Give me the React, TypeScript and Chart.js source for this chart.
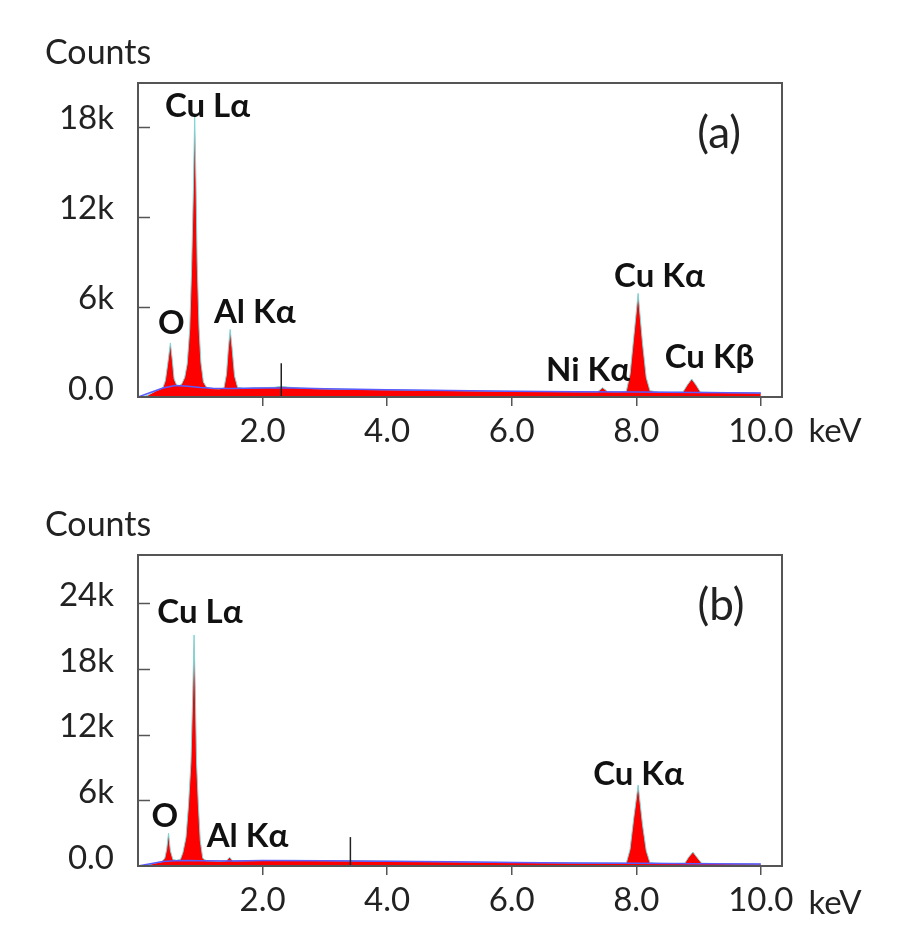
import React, { useEffect, useRef } from 'react';
import { Chart, registerables } from 'chart.js';

Chart.register(...registerables);

// ---------- Panel (a) data ----------
const energyA = [0, 0.08, 0.16, 0.24, 0.3, 0.36, 0.4, 0.44, 0.48, 0.52, 0.55, 0.58, 0.62, 0.66, 0.7, 0.75, 0.79, 0.83, 0.86, 0.89, 0.91, 0.93, 0.95, 0.98, 1.01, 1.05, 1.1, 1.18, 1.3, 1.38, 1.42, 1.45, 1.48, 1.51, 1.55, 1.6, 1.7, 1.85, 2.0, 2.2, 2.3, 2.4, 2.6, 2.8, 3.0, 3.3, 3.6, 4.0, 4.4, 4.8, 5.2, 5.6, 6.0, 6.4, 6.8, 7.2, 7.38, 7.46, 7.54, 7.7, 7.84, 7.9, 7.96, 8.03, 8.1, 8.16, 8.22, 8.35, 8.55, 8.75, 8.82, 8.89, 8.96, 9.03, 9.2, 9.5, 9.8, 10.0];
const countsA = [0, 20, 120, 300, 430, 520, 620, 1100, 2300, 3600, 2500, 1200, 800, 760, 850, 1300, 2200, 4500, 8500, 14000, 18800, 14500, 9000, 4600, 2300, 1000, 650, 560, 540, 600, 1500, 3200, 4500, 3300, 1400, 640, 580, 610, 620, 650, 720, 660, 600, 560, 540, 520, 500, 480, 460, 440, 420, 400, 380, 370, 360, 350, 350, 620, 360, 350, 380, 1500, 4000, 6900, 3600, 1300, 420, 330, 320, 340, 800, 1200, 800, 330, 310, 290, 280, 270];
const bgEnergyA = [0, 0.2, 0.4, 0.6, 0.8, 1.0, 1.2, 1.5, 2.0, 2.5, 3.0, 4.0, 5.0, 6.0, 7.0, 8.0, 9.0, 10.0];
const bgCountsA = [0, 300, 600, 760, 720, 640, 580, 560, 600, 600, 550, 480, 430, 380, 350, 330, 300, 270];
const markerEnergyA = [2.3, 2.3];
const markerCountsA = [0, 2250];
const yTicksA = [0, 6000, 12000, 18000];

// ---------- Panel (b) data ----------
const energyB = [0, 0.1, 0.2, 0.3, 0.38, 0.43, 0.46, 0.49, 0.52, 0.56, 0.62, 0.68, 0.72, 0.77, 0.81, 0.85, 0.88, 0.9, 0.92, 0.94, 0.97, 1.0, 1.04, 1.1, 1.3, 1.42, 1.47, 1.52, 1.7, 2.0, 2.5, 3.0, 3.41, 3.8, 4.5, 5.0, 5.5, 6.0, 6.5, 7.0, 7.5, 7.84, 7.9, 7.96, 8.03, 8.1, 8.16, 8.22, 8.4, 8.6, 8.78, 8.84, 8.91, 8.98, 9.05, 9.3, 9.6, 10.0];
const countsB = [0, 40, 160, 300, 380, 700, 1500, 3000, 1400, 600, 520, 600, 1200, 2600, 5500, 9500, 16000, 21100, 16000, 9500, 5500, 2300, 700, 480, 440, 470, 810, 470, 480, 500, 510, 490, 470, 450, 410, 390, 360, 330, 300, 280, 270, 260, 1500, 4400, 7400, 3800, 1400, 300, 240, 230, 260, 800, 1270, 750, 260, 220, 200, 180];
const bgEnergyB = [0, 0.2, 0.4, 0.6, 0.8, 1.0, 1.5, 2.0, 3.0, 4.0, 5.0, 6.0, 7.0, 8.0, 9.0, 10.0];
const bgCountsB = [0, 200, 400, 480, 500, 480, 460, 500, 490, 440, 390, 330, 280, 250, 210, 180];
const markerEnergyB = [3.41, 3.41];
const markerCountsB = [0, 2640];
const yTicksB = [0, 6000, 12000, 18000, 24000];

// ---------- shared ----------
const xTicks = [2, 4, 6, 8, 10];
const peakNamesA = ['Cu Lα', 'O', 'Al Kα', 'Ni Kα', 'Cu Kα', 'Cu Kβ'];
const peakNamesB = ['Cu Lα', 'O', 'Al Kα', 'Cu Kα'];

const FONT = 'Lato, "DejaVu Sans", sans-serif';

const toXY = (xs: number[], ys: number[]) => xs.map((x, i) => ({ x, y: ys[i] }));

const framePlugin = {
  id: 'frame',
  afterDatasetsDraw(chart: any) {
    const { ctx, chartArea: a, scales } = chart;
    ctx.save();
    ctx.strokeStyle = '#555';
    ctx.lineWidth = 2;
    ctx.strokeRect(a.left, a.top, a.right - a.left, a.bottom - a.top);
    ctx.lineWidth = 1.5;
    for (const t of scales.y.ticks) {
      if (t.value === 0) continue;
      const py = Math.round(scales.y.getPixelForValue(t.value)) + 0.5;
      ctx.beginPath();
      ctx.moveTo(a.left, py);
      ctx.lineTo(a.left + 12, py);
      ctx.stroke();
    }
    ctx.restore();
  },
  afterDraw(chart: any, _args: any, opts: any) {
    const { ctx, chartArea: a, scales } = chart;
    ctx.save();
    ctx.textBaseline = 'middle';
    ctx.fillStyle = '#222';
    ctx.font = `34px ${FONT}`;
    ctx.textAlign = 'left';
    ctx.fillText('Counts', 45, a.top - 30);
    ctx.textAlign = 'center';
    ctx.font = `33px ${FONT}`;
    ctx.fillText('keV', a.right + 53, a.bottom + opts.kevDy);
    ctx.fillStyle = '#111';
    ctx.font = `bold 33px ${FONT}`;
    opts.names.forEach((n: string, i: number) => {
      const [ex, cy] = opts.pos[i];
      ctx.fillText(n, scales.x.getPixelForValue(ex), scales.y.getPixelForValue(cy));
    });
    ctx.fillStyle = '#222';
    ctx.font = `44px ${FONT}`;
    ctx.fillText(opts.letter, scales.x.getPixelForValue(opts.letterPos[0]), scales.y.getPixelForValue(opts.letterPos[1]));
    ctx.restore();
  },
};

type PanelProps = {
  energy: number[];
  counts: number[];
  bgE: number[];
  bgC: number[];
  mkE: number[];
  mkC: number[];
  yTicks: number[];
  yMax: number;
  height: number;
  padTop: number;
  xAxisH: number;
  names: string[];
  pos: number[][];
  letter: string;
  letterPos: number[];
  kevDy: number;
};

function Panel(p: PanelProps) {
  const ref = useRef<HTMLCanvasElement>(null);
  useEffect(() => {
    if (!ref.current) return;
    const chart = new Chart(ref.current, {
      type: 'line',
      data: {
        datasets: [
          {
            data: toXY(p.mkE, p.mkC),
            borderColor: '#222',
            borderWidth: 1.5,
            pointRadius: 0,
            fill: false,
            order: 1,
          },
          {
            data: toXY(p.bgE, p.bgC),
            borderColor: '#5a5aff',
            borderWidth: 1.5,
            pointRadius: 0,
            fill: false,
            order: 2,
          },
          {
            data: toXY(p.energy, p.counts),
            borderColor: '#7fd6d6',
            borderWidth: 1,
            backgroundColor: '#ff0000',
            pointRadius: 0,
            fill: 'origin',
            order: 3,
          },
        ],
      },
      options: {
        animation: false,
        responsive: false,
        events: [],
        layout: { padding: { left: 0, right: 117, top: p.padTop, bottom: 0 } },
        plugins: {
          legend: { display: false },
          tooltip: { enabled: false },
          frame: {
            names: p.names,
            pos: p.pos,
            letter: p.letter,
            letterPos: p.letterPos,
            kevDy: p.kevDy,
          },
        } as any,
        scales: {
          x: {
            type: 'linear',
            min: 0,
            max: 10.34,
            afterBuildTicks: (s: any) => {
              s.ticks = xTicks.map((v) => ({ value: v }));
            },
            afterFit: (s: any) => {
              s.height = p.xAxisH;
            },
            border: { display: false },
            grid: { display: true, drawOnChartArea: false, drawTicks: true, tickLength: 9, color: '#555', lineWidth: 1.5 },
            ticks: {
              autoSkip: false,
              maxRotation: 0,
              padding: 6,
              color: '#222',
              font: { family: FONT, size: 33 },
              callback: (v: any) => Number(v).toFixed(1),
            },
          },
          y: {
            type: 'linear',
            min: 0,
            max: p.yMax,
            afterBuildTicks: (s: any) => {
              s.ticks = p.yTicks.map((v) => ({ value: v }));
            },
            afterFit: (s: any) => {
              s.width = 138;
            },
            border: { display: false },
            grid: { display: false, drawTicks: false },
            ticks: {
              padding: 24,
              labelOffset: -8,
              color: '#222',
              font: { family: FONT, size: 33 },
              callback: (v: any) => (Number(v) === 0 ? '0.0' : `${Number(v) / 1000}k`),
            },
          },
        },
      },
      plugins: [framePlugin as any],
    });
    return () => chart.destroy();
  }, []);
  return <canvas ref={ref} width={899} height={p.height} style={{ display: 'block' }} />;
}

export default function App() {
  return (
    <div style={{ position: 'absolute', left: 0, top: 0, width: 899, height: 941, background: '#fff' }}>
      <Panel
        energy={energyA}
        counts={countsA}
        bgE={bgEnergyA}
        bgC={bgCountsA}
        mkE={markerEnergyA}
        mkC={markerCountsA}
        yTicks={yTicksA}
        yMax={20900}
        height={470}
        padTop={83}
        xAxisH={73}
        names={peakNamesA}
        pos={[[1.116, 19369], [0.535, 4925], [1.874, 5624], [7.225, 1764], [8.373, 8054], [9.176, 2629]]}
        letter="(a)"
        letterPos={[9.33, 17505]}
        kevDy={34}
      />
      <Panel
        energy={energyB}
        counts={countsB}
        bgE={bgEnergyB}
        bgC={bgCountsB}
        mkE={markerEnergyB}
        mkC={markerCountsB}
        yTicks={yTicksB}
        yMax={28400}
        height={471}
        padTop={85}
        xAxisH={75}
        names={peakNamesB}
        pos={[[0.995, 23195], [0.429, 4502], [1.758, 2676], [8.036, 8401]]}
        letter="(b)"
        letterPos={[9.36, 23743]}
        kevDy={37}
      />
    </div>
  );
}
